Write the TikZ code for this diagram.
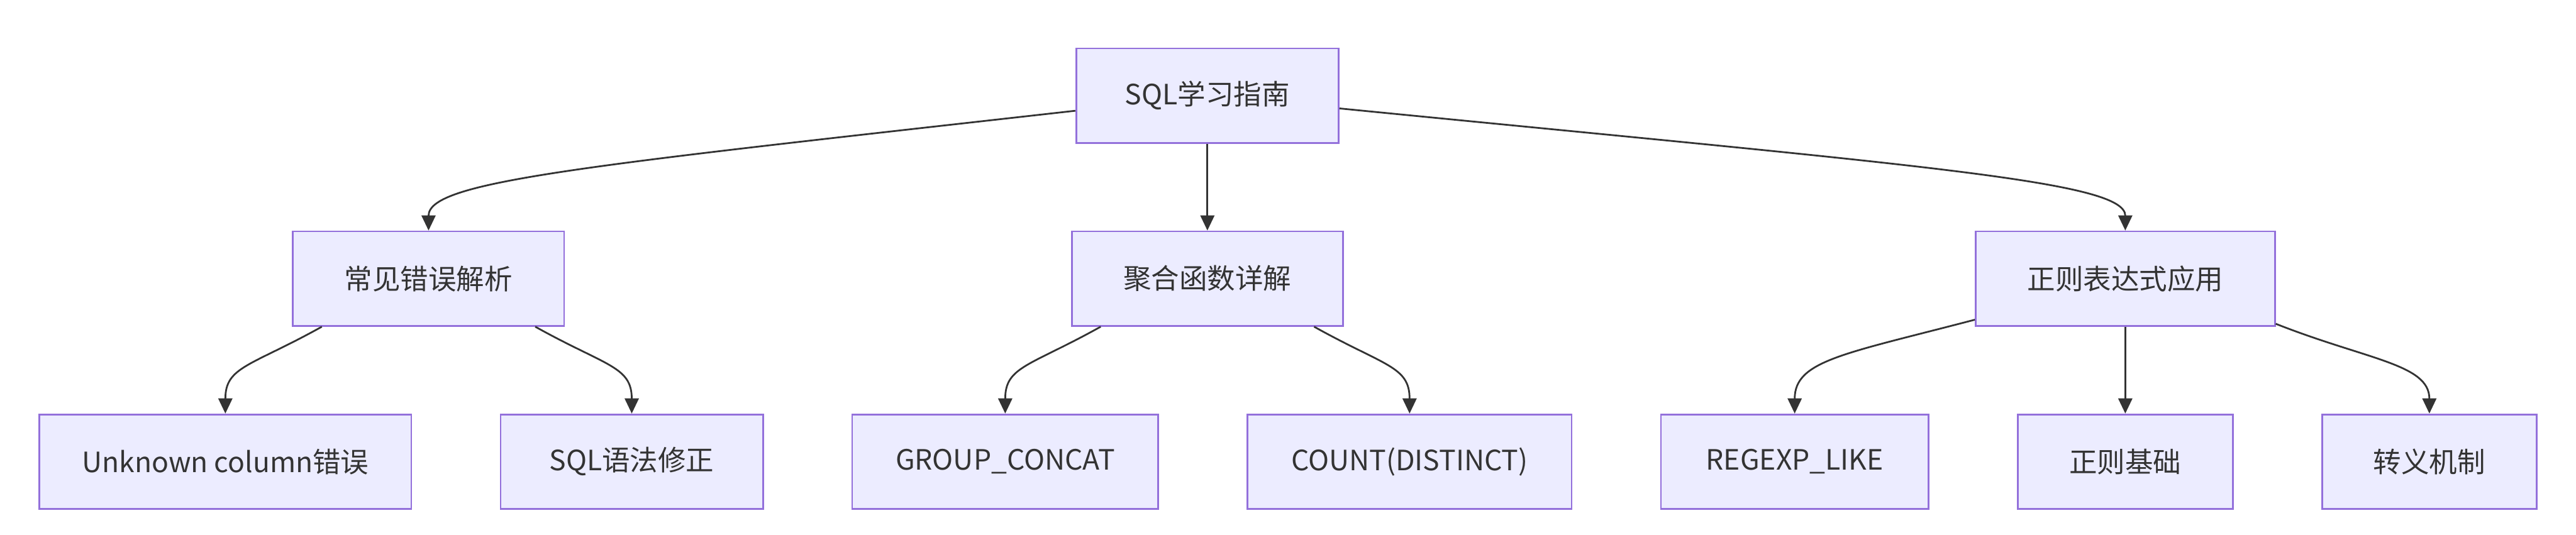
\documentclass[tikz,border=0pt]{standalone}
\usepackage{fontspec}
\setmainfont{Noto Sans CJK SC}
\definecolor{lilafondo}{HTML}{ECECFF}
\definecolor{lilaborde}{HTML}{9370DB}
\definecolor{grisoscuro}{HTML}{333333}
\usetikzlibrary{arrows.meta,positioning,calc}

\begin{document}
\begin{tikzpicture}[
  every node/.style={font=\fontsize{13.66pt}{16pt}\selectfont, text=grisoscuro},
  caja/.style={
    rectangle,
    draw=lilaborde, line width=0.03cm,
    fill=lilafondo,
    inner xsep=0.4cm, inner ysep=0pt,
    minimum height=1.62cm},
  flecha/.style={
    draw=grisoscuro, line width=0.03cm,
    -{Triangle[length=0.26cm,width=0.24cm]}},
  node distance=1.49cm and 1.5cm
]
  \useasboundingbox (0,0) rectangle (44.18,-9.17);

  %% ── Fila inferior ─────────────────────────────────────────
  \node[caja, minimum width=6.38cm] (E1) at (3.865,-7.92) {Unknown column错误};
  \node[caja, minimum width=4.50cm, right=of E1] (E2) {SQL语法修正};
  \node[caja, minimum width=5.25cm, right=of E2] (A1) {GROUP\_CONCAT};
  \node[caja, minimum width=5.56cm, right=of A1] (A2) {COUNT(DISTINCT)};
  \node[caja, minimum width=4.59cm, right=of A2] (X1) {REGEXP\_LIKE};
  \node[caja, minimum width=3.69cm, right=of X1] (X2) {正则基础};
  \node[caja, minimum width=3.68cm, right=of X2] (X3) {转义机制};

  %% ── Fila media ────────────────────────────────────────────
  \node[caja, minimum width=4.65cm, above=of $(E1.north)!0.5!(E2.north)$] (E)
    {常见错误解析};
  \node[caja, minimum width=4.65cm, above=of $(A1.north)!0.5!(A2.north)$] (A)
    {聚合函数详解};
  \node[caja, minimum width=5.13cm, above=of X2] (X) {正则表达式应用};

  %% ── Raíz ──────────────────────────────────────────────────
  \node[caja, minimum width=4.50cm, above=of A] (R) {SQL学习指南};

  %% ── R → fila media ───────────────────────────────────────
  \draw[flecha] ([yshift=-0.26cm]R.west)
    .. controls +(-8.44,-0.95) and +(0,0.85) .. (E.north);
  \draw[flecha] (R.south) -- (A.north);
  \draw[flecha] ([yshift=-0.22cm]R.east)
    .. controls +(10.03,-0.99) and +(0,0.85) .. (X.north);

  %% ── E → hijos ────────────────────────────────────────────
  \draw[flecha] ([xshift=-1.83cm]E.south)
    .. controls +(-1.22,-0.68) and +(0,0.81) .. (E1.north);
  \draw[flecha] ([xshift=1.83cm]E.south)
    .. controls +(1.22,-0.68) and +(0,0.81) .. (E2.north);

  %% ── A → hijos ────────────────────────────────────────────
  \draw[flecha] ([xshift=-1.83cm]A.south)
    .. controls +(-1.22,-0.68) and +(0,0.81) .. (A1.north);
  \draw[flecha] ([xshift=1.83cm]A.south)
    .. controls +(1.22,-0.68) and +(0,0.81) .. (A2.north);

  %% ── X → hijos ────────────────────────────────────────────
  \draw[flecha] ([yshift=-0.705cm]X.west)
    .. controls +(-2.25,-0.59) and +(0,0.91) .. (X1.north);
  \draw[flecha] (X.south) -- (X2.north);
  \draw[flecha] ([yshift=-0.775cm]X.east)
    .. controls +(1.57,-0.62) and +(0,0.85) .. (X3.north);

\end{tikzpicture}
\end{document}
